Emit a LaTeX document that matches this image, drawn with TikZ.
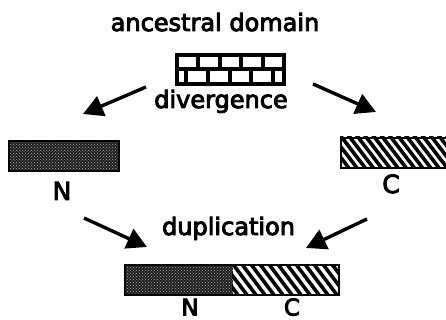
\documentclass[tikz,border=0pt]{standalone}
\usepackage{fontspec}
\newfontfamily\lblfont{DejaVu Sans}
\newcommand\strk[1]{\special{pdf:literal direct 2 Tr 0.9 w}#1\special{pdf:literal direct 0 Tr}}
\usetikzlibrary{arrows.meta,patterns}
\begin{document}
\begin{tikzpicture}[x=1pt,y=-1pt,
  lbl/.style={font=\lblfont\fontsize{24}{26}\selectfont, inner sep=0pt, anchor=base},
  letter/.style={font=\lblfont\fontsize{25}{28}\selectfont, inner sep=0pt, anchor=base},
  smallletter/.style={font=\lblfont\fontsize{23}{26}\selectfont, inner sep=0pt, anchor=base},
  bar/.style={draw=black, line width=2pt, inner sep=0pt, anchor=north west},
  dotted box/.style={bar, preaction={fill=black!88}, pattern=crosshatch dots, pattern color=white!65!black},
  hatchline/.style={line width=3.6pt},
  mortar/.style={line width=3.6pt},
  bigarrow/.style={line width=3.4pt, -{Triangle[length=20pt,width=21pt]}}
]
\useasboundingbox (0,0) rectangle (446,320);
\fill[white] (0,0) rectangle (446,320);

% texts
\node[lbl] (anc) at (215,31) {\strk{ancestral domain}};
\node[lbl] (div) at (221,108) {\strk{divergence}};
\node[lbl] (dup) at (228.5,235) {\strk{duplication}};

% ancestral brick box
\node[bar, fill=white, minimum width=107pt, minimum height=29pt, line width=3.6pt] (brick) at (175,53) {};
\draw[mortar] (brick.west) -- (brick.east);
\foreach \x in {198,220,241,263} \draw[mortar] (\x,53) -- (\x,67.5);
\foreach \x in {186,208,230,251,273} \draw[mortar] (\x,67.5) -- (\x,82);

% N box (left)
\node[dotted box, minimum width=110pt, minimum height=30pt] (nbox) at (8,140) {};
% C box (right)
\node[bar, minimum width=107pt, minimum height=30pt] (cbox) at (340,137) {};
\begin{scope}
  \clip (cbox.north west) rectangle (cbox.south east);
  \foreach \i in {-5,...,16} \draw[hatchline] (340+\i*8.2,135) -- ++(26,34);
\end{scope}
\node[bar, minimum width=107pt, minimum height=30pt] at (340,137) {};

\node[letter] (nl) at (62,200) {\strk{N}};
\node[letter] (cl) at (391,193) {\strk{C}};

% bottom combined bar
\node[dotted box, draw=none, minimum width=107pt, minimum height=28pt] (bn) at (125,265) {};
\node[bar, draw=none, minimum width=105pt, minimum height=28pt] (bc) at (232,265) {};
\begin{scope}
  \clip (bc.north west) rectangle (bc.south east);
  \foreach \i in {-5,...,14} \draw[hatchline] (232+\i*9,263) -- ++(24,32);
\end{scope}
\draw[line width=2pt] (bn.north west) rectangle (bc.south east);
\node[smallletter] (bnl) at (190,315.5) {\strk{N}};
\node[smallletter] (bcl) at (292,315.5) {\strk{C}};

% arrows
\coordinate (a1s) at (146,87);  \coordinate (a1e) at (83,114);
\coordinate (a2s) at (313,84);  \coordinate (a2e) at (376,112);
\coordinate (a3s) at (84,218);  \coordinate (a3e) at (147,247);
\coordinate (a4s) at (367,219); \coordinate (a4e) at (306,248);
\draw[bigarrow] (a1s) -- (a1e);
\draw[bigarrow] (a2s) -- (a2e);
\draw[bigarrow] (a3s) -- (a3e);
\draw[bigarrow] (a4s) -- (a4e);
\end{tikzpicture}
\end{document}
